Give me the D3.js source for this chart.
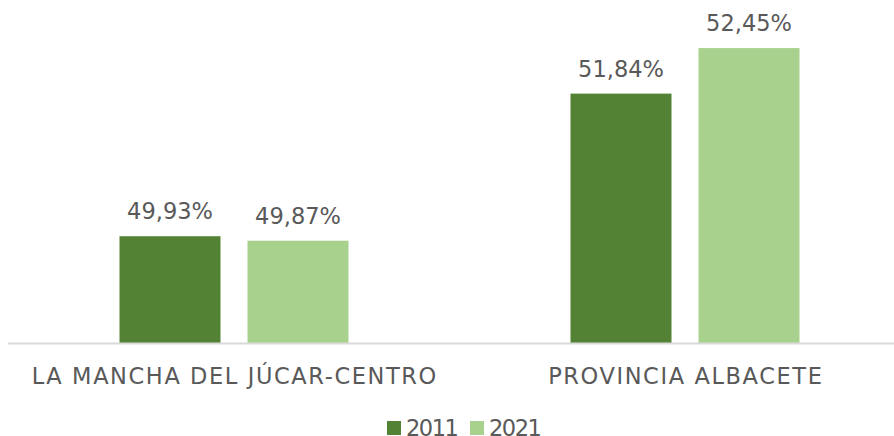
<!doctype html>
<html>
  <head>
    <script src="https://d3js.org/d3.v7.min.js"></script>
    <style>
      body { margin: 0; background: #fff; }
      text { font-family: "DejaVu Sans", sans-serif; fill: #595959; }
    </style>
  </head>
  <body>
    <svg class="chart" width="894" height="436"></svg>
    <script>
      var categories = ["LA MANCHA DEL JÚCAR-CENTRO", "PROVINCIA ALBACETE"];
      var years = ["2011", "2021"];
      var values2011 = [49.93, 51.84];
      var values2021 = [49.87, 52.45];
      var colors = ["#548235", "#a9d18e"];

      var svg = d3.select("svg"),
        baseY = 343,
        fontSize = 22.5;

      var xScale = d3.scaleBand().domain(categories).range([8.5, 910.5]);
      // bars sit in the middle of each group
      var xInner = d3.scaleBand().domain(years).range([111, 340]).paddingInner(0.211);
      var yScale = d3.scaleLinear().domain([48.5, 53]).range([baseY, 7]);

      var series = [values2011, values2021];
      var data = [];
      categories.forEach(function(c, i) {
        years.forEach(function(y, j) {
          data.push({cat: c, year: y, value: series[j][i], color: colors[j]});
        });
      });

      var g = svg.append("g");
      g.selectAll("rect.bar")
        .data(data)
        .enter().append("rect")
        .attr("class", "bar")
        .attr("x", function(d){ return xScale(d.cat) + xInner(d.year); })
        .attr("y", function(d){ return yScale(d.value); })
        .attr("width", xInner.bandwidth())
        .attr("height", function(d){ return baseY - yScale(d.value); })
        .attr("fill", function(d){ return d.color; });

      g.selectAll("text.val")
        .data(data)
        .enter().append("text")
        .attr("class", "val")
        .attr("x", function(d){ return xScale(d.cat) + xInner(d.year) + xInner.bandwidth() / 2; })
        .attr("y", function(d){ return yScale(d.value) - 17; })
        .attr("text-anchor", "middle")
        .style("font-size", fontSize + "px")
        .text(function(d){ return d.value.toFixed(2).replace(".", ",") + "%"; });

      // axis
      svg.append("line")
        .attr("x1", 8).attr("x2", 894)
        .attr("y1", baseY + 0.5).attr("y2", baseY + 0.5)
        .attr("stroke", "#d9d9d9").attr("stroke-width", 2);

      svg.selectAll("text.cat")
        .data(categories)
        .enter().append("text")
        .attr("class", "cat")
        .attr("x", function(d){ return xScale(d) + xScale.bandwidth() / 2 + 0.8; })
        .attr("y", 384)
        .attr("text-anchor", "middle")
        .style("font-size", fontSize + "px")
        .style("letter-spacing", "1.6px")
        .text(function(d){ return d; });

      // legend
      var legX = [387, 470];
      var leg = svg.selectAll("g.leg")
        .data(years)
        .enter().append("g")
        .attr("class", "leg")
        .attr("transform", function(d, i){ return "translate(" + legX[i] + ",421)"; });
      leg.append("rect")
        .attr("width", 14).attr("height", 14)
        .attr("fill", function(d, i){ return colors[i]; });
      leg.append("text")
        .attr("x", 19).attr("y", 14.5)
        .style("font-size", fontSize + "px")
        .style("letter-spacing", "-1.5px")
        .text(function(d){ return d; });
    </script>
  </body>
</html>
